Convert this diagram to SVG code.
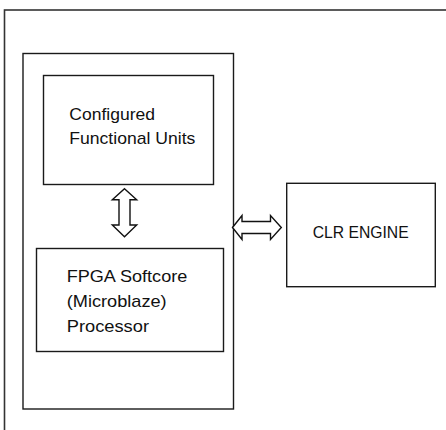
<svg xmlns="http://www.w3.org/2000/svg" width="446" height="430" viewBox="0 0 446 430">
  <style>
    .box { fill: #ffffff; stroke: #1a1a1a; stroke-width: 1.4; }
    .frame { fill: none; stroke: #333333; stroke-width: 1.6; }
    .arrow { fill: #ffffff; stroke: #111111; stroke-width: 1.4; stroke-linejoin: miter; }
    .label { font-family: "Liberation Sans", Arial, sans-serif; font-size: 17px; fill: #111111; }
  </style>
  <rect width="446" height="430" fill="#ffffff"/>

  <!-- outer frame, running off the right and bottom edges -->
  <g id="frame">
    <rect class="frame" x="4.5" y="10" width="460" height="440"/>
  </g>

  <!-- FPGA board containing the two on-chip units -->
  <g id="fpga-board">
    <rect class="box" x="23" y="53.5" width="210.5" height="355.5"/>
  </g>

  <g id="functional-units">
    <rect class="box" x="43.5" y="75.5" width="170" height="109"/>
    <text class="label" x="69.3" y="119.5" textLength="85.7" lengthAdjust="spacingAndGlyphs">Configured</text>
    <text class="label" x="69.3" y="144" textLength="126" lengthAdjust="spacingAndGlyphs">Functional Units</text>
  </g>

  <g id="softcore-processor">
    <rect class="box" x="36.5" y="248.5" width="187" height="103"/>
    <text class="label" x="66.7" y="281.5" textLength="120.6" lengthAdjust="spacingAndGlyphs">FPGA Softcore</text>
    <text class="label" x="66.7" y="306.5" textLength="100" lengthAdjust="spacingAndGlyphs">(Microblaze)</text>
    <text class="label" x="66.7" y="331.5" textLength="82.3" lengthAdjust="spacingAndGlyphs">Processor</text>
  </g>

  <g id="clr-engine">
    <rect class="box" x="286.7" y="183.3" width="148.6" height="103.4"/>
    <text class="label" x="312.7" y="237.7" textLength="96" lengthAdjust="spacingAndGlyphs">CLR ENGINE</text>
  </g>

  <!-- two-way block arrows -->
  <g id="connectors">
    <polygon class="arrow" points="124.5,188.8 136.7,199.8 130,199.8 130,225 136.7,225 124.5,236.8 112.3,225 119,225 119,199.8 112.3,199.8"/>
    <polygon class="arrow" points="232.5,227.5 242,215.5 242,221.5 270.5,221.5 270.5,215.5 281.3,227.5 270.5,239.5 270.5,233.5 242,233.5 242,239.5"/>
  </g>
</svg>
